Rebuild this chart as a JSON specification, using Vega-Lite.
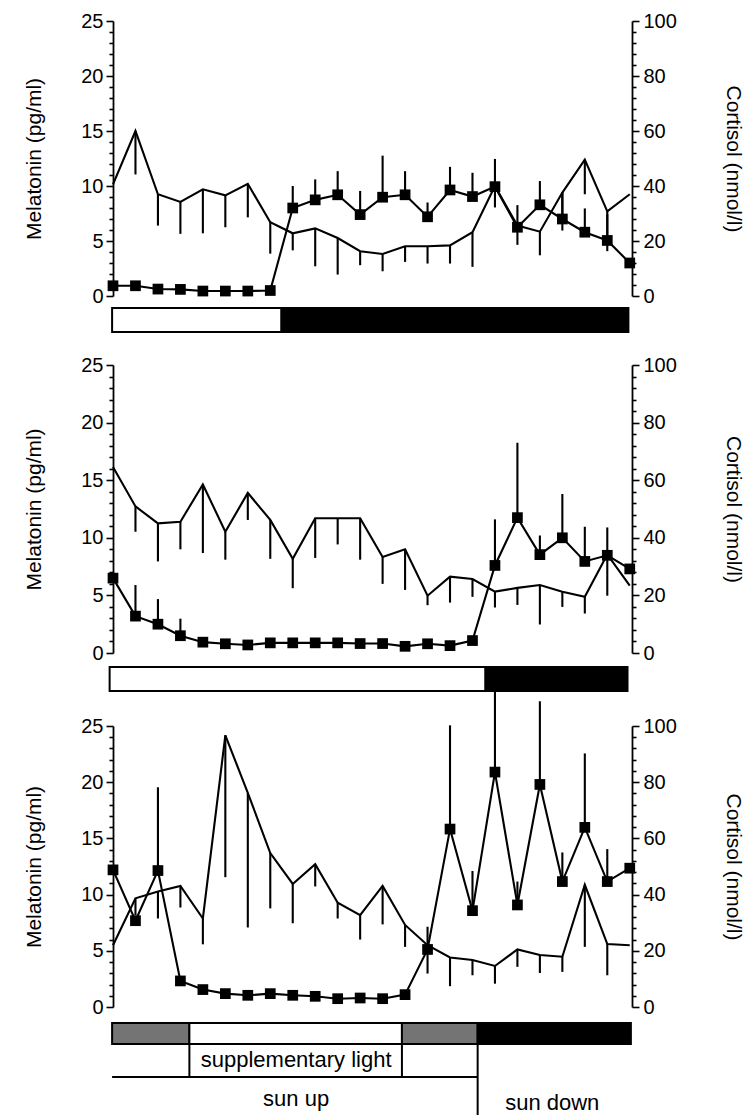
{
  "$schema": "https://vega.github.io/schema/vega-lite/v6.json",
  "padding": {"left": 23, "top": 11, "right": 5, "bottom": 0},
  "background": "white",
  "bounds": "flush",
  "spacing": 12,
  "datasets": {
    "p1": [
      {"t": 1, "mel": 0.93, "melHi": null, "cort": 40.6, "cortLo": null},
      {"t": 2, "mel": 0.93, "melHi": null, "cort": 60, "cortLo": 44.2},
      {"t": 3, "mel": 0.63, "melHi": null, "cort": 37, "cortLo": 25.6},
      {"t": 4, "mel": 0.6, "melHi": null, "cort": 34.2, "cortLo": 22.6},
      {"t": 5, "mel": 0.45, "melHi": null, "cort": 38.8, "cortLo": 22.8},
      {"t": 6, "mel": 0.45, "melHi": null, "cort": 36.6, "cortLo": 25},
      {"t": 7, "mel": 0.45, "melHi": null, "cort": 40.8, "cortLo": 28.6},
      {"t": 8, "mel": 0.5, "melHi": null, "cort": 26.8, "cortLo": 15.4},
      {"t": 9, "mel": 8.0, "melHi": 10.0, "cort": 22.8, "cortLo": 16.6},
      {"t": 10, "mel": 8.74, "melHi": 10.6, "cort": 24.6, "cortLo": 10.8},
      {"t": 11, "mel": 9.2, "melHi": 11.35, "cort": 21.1, "cortLo": 7.8},
      {"t": 12, "mel": 7.4, "melHi": 9.55, "cort": 16.3, "cortLo": 11.2},
      {"t": 13, "mel": 8.98, "melHi": 12.76, "cort": 15.3, "cortLo": 9},
      {"t": 14, "mel": 9.2, "melHi": 11.35, "cort": 18.1, "cortLo": 12.4},
      {"t": 15, "mel": 7.2, "melHi": 8.5, "cort": 18.1, "cortLo": 11.8},
      {"t": 16, "mel": 9.64, "melHi": 11.74, "cort": 18.4, "cortLo": 11.8},
      {"t": 17, "mel": 9.04, "melHi": 11.2, "cort": 23.2, "cortLo": 10.6},
      {"t": 18, "mel": 9.94, "melHi": 12.46, "cort": 40, "cortLo": 32.2},
      {"t": 19, "mel": 6.25, "melHi": 8.26, "cort": 25.6, "cortLo": 18.6},
      {"t": 20, "mel": 8.29, "melHi": 10.45, "cort": 23.4, "cortLo": 14.8},
      {"t": 21, "mel": 7.0, "melHi": 9.46, "cort": 37.6, "cortLo": 23.8},
      {"t": 22, "mel": 5.8, "melHi": 7.96, "cort": 49.6, "cortLo": 37},
      {"t": 23, "mel": 5.05, "melHi": 7.45, "cort": 30.8, "cortLo": 16.3},
      {"t": 24, "mel": 3.0, "melHi": null, "cort": 37, "cortLo": null}
    ],
    "p2": [
      {"t": 1, "mel": 6.5, "melHi": null, "cort": 64.6, "cortLo": null},
      {"t": 2, "mel": 3.2, "melHi": 5.9, "cort": 50.9, "cortLo": 42.1},
      {"t": 3, "mel": 2.5, "melHi": 4.68, "cort": 45, "cortLo": 31.8},
      {"t": 4, "mel": 1.5, "melHi": 2.98, "cort": 45.6, "cortLo": 36},
      {"t": 5, "mel": 0.94, "melHi": null, "cort": 58.5, "cortLo": 34.7},
      {"t": 6, "mel": 0.8, "melHi": null, "cort": 42.1, "cortLo": 32.4},
      {"t": 7, "mel": 0.7, "melHi": null, "cort": 55.6, "cortLo": 46.2},
      {"t": 8, "mel": 0.88, "melHi": null, "cort": 46.2, "cortLo": 32.7},
      {"t": 9, "mel": 0.88, "melHi": null, "cort": 32.7, "cortLo": 22.5},
      {"t": 10, "mel": 0.88, "melHi": null, "cort": 46.8, "cortLo": 33},
      {"t": 11, "mel": 0.88, "melHi": null, "cort": 46.8, "cortLo": 37.7},
      {"t": 12, "mel": 0.82, "melHi": null, "cort": 46.8, "cortLo": 32.4},
      {"t": 13, "mel": 0.82, "melHi": null, "cort": 33.3, "cortLo": 24},
      {"t": 14, "mel": 0.58, "melHi": null, "cort": 36, "cortLo": 21.9},
      {"t": 15, "mel": 0.8, "melHi": null, "cort": 19.9, "cortLo": 16.6},
      {"t": 16, "mel": 0.64, "melHi": null, "cort": 26.5, "cortLo": 17.5},
      {"t": 17, "mel": 1.08, "melHi": null, "cort": 25.7, "cortLo": 19.5},
      {"t": 18, "mel": 7.6, "melHi": 11.6, "cort": 21.3, "cortLo": 15.8},
      {"t": 19, "mel": 11.75, "melHi": 18.25, "cort": 22.6, "cortLo": 16.7},
      {"t": 20, "mel": 8.54, "melHi": 10.2, "cort": 23.6, "cortLo": 9.9},
      {"t": 21, "mel": 10.0, "melHi": 13.8, "cort": 21.3, "cortLo": 16},
      {"t": 22, "mel": 7.95, "melHi": 10.96, "cort": 19.5, "cortLo": 13.7},
      {"t": 23, "mel": 8.48, "melHi": 10.9, "cort": 34.2, "cortLo": 19.9},
      {"t": 24, "mel": 7.3, "melHi": null, "cort": 23.4, "cortLo": null}
    ],
    "p3": [
      {"t": 1, "mel": 12.2, "melHi": null, "cort": 22, "cortLo": null},
      {"t": 2, "mel": 7.68, "melHi": null, "cort": 38.7, "cortLo": 32.7},
      {"t": 3, "mel": 12.14, "melHi": 19.55, "cort": 41.1, "cortLo": 31.5},
      {"t": 4, "mel": 2.32, "melHi": null, "cort": 43.1, "cortLo": 35.4},
      {"t": 5, "mel": 1.55, "melHi": null, "cort": 31.5, "cortLo": 22.3},
      {"t": 6, "mel": 1.19, "melHi": null, "cort": 96.7, "cortLo": 46.2},
      {"t": 7, "mel": 1.04, "melHi": null, "cort": 76.2, "cortLo": 28.3},
      {"t": 8, "mel": 1.19, "melHi": null, "cort": 54.8, "cortLo": 35.1},
      {"t": 9, "mel": 1.04, "melHi": null, "cort": 43.8, "cortLo": 29.8},
      {"t": 10, "mel": 0.95, "melHi": null, "cort": 50.8, "cortLo": 42.9},
      {"t": 11, "mel": 0.74, "melHi": null, "cort": 37.1, "cortLo": 31.5},
      {"t": 12, "mel": 0.8, "melHi": null, "cort": 32.7, "cortLo": 24},
      {"t": 13, "mel": 0.74, "melHi": null, "cort": 43.1, "cortLo": 29.4},
      {"t": 14, "mel": 1.1, "melHi": null, "cort": 29.2, "cortLo": 21.4},
      {"t": 15, "mel": 5.12, "melHi": 7.14, "cort": 22, "cortLo": 11.9},
      {"t": 16, "mel": 15.83, "melHi": 25.06, "cort": 17.6, "cortLo": 7.4},
      {"t": 17, "mel": 8.57, "melHi": 12.1, "cort": 16.7, "cortLo": 11.3},
      {"t": 18, "mel": 20.9, "melHi": 28.2, "cort": 14.6, "cortLo": 8.3},
      {"t": 19, "mel": 9.08, "melHi": 11.16, "cort": 20.5, "cortLo": 14.3},
      {"t": 20, "mel": 19.8, "melHi": 27.2, "cort": 18.5, "cortLo": 12.1},
      {"t": 21, "mel": 11.16, "melHi": 13.75, "cort": 17.9, "cortLo": 12.5},
      {"t": 22, "mel": 15.98, "melHi": 22.56, "cort": 43.5, "cortLo": 21.4},
      {"t": 23, "mel": 11.16, "melHi": 14.05, "cort": 22.4, "cortLo": 11.3},
      {"t": 24, "mel": 12.35, "melHi": null, "cort": 22, "cortLo": null}
    ]
  },
  "vconcat": [
    {
      "width": 519, "height": 275,
      "data": {"name": "p1"},
      "layer": [
        {
          "encoding": {
            "x": {"field": "t", "type": "quantitative", "scale": {"domain": [1, 24.1], "nice": false, "zero": false}, "axis": null},
            "y": {"field": "cort", "type": "quantitative", "scale": {"domain": [0, 100], "nice": false, "zero": true},
              "axis": {"orient": "right", "title": "Cortisol (nmol/l)", "titlePadding": 46, "values": [0,4,8,12,16,20,24,28,32,36,40,44,48,52,56,60,64,68,72,76,80,84,88,92,96,100], "labelExpr": "datum.value % 20 === 0 ? datum.label : ''", "tickSize": {"condition": {"test": "datum.value % 20 === 0", "value": 7}, "value": 4}, "labelPadding": 4, "labelFlush": false, "labelOverlap": false, "labelBound": false}}
          },
          "layer": [
            {"transform": [{"filter": "datum.cortLo != null"}], "mark": {"type": "rule", "color": "black", "strokeWidth": 2.1, "clip": false}, "encoding": {"y2": {"field": "cortLo"}}},
            {"mark": {"type": "line", "color": "black", "strokeWidth": 2.1, "clip": false}}
          ]
        },
        {
          "encoding": {
            "x": {"field": "t", "type": "quantitative", "scale": {"domain": [1, 24.1], "nice": false, "zero": false}, "axis": null},
            "y": {"field": "mel", "type": "quantitative", "scale": {"domain": [0, 25], "nice": false, "zero": true},
              "axis": {"orient": "left", "title": "Melatonin (pg/ml)", "titlePadding": 36, "values": [0,1,2,3,4,5,6,7,8,9,10,11,12,13,14,15,16,17,18,19,20,21,22,23,24,25], "labelExpr": "datum.value % 5 === 0 ? datum.label : ''", "tickSize": {"condition": {"test": "datum.value % 5 === 0", "value": 7}, "value": 4}, "labelPadding": 3, "labelFlush": false, "labelOverlap": false, "labelBound": false}}
          },
          "layer": [
            {"transform": [{"filter": "datum.melHi != null"}], "mark": {"type": "rule", "color": "black", "strokeWidth": 2.1, "clip": false}, "encoding": {"y2": {"field": "melHi"}}},
            {"mark": {"type": "line", "color": "black", "strokeWidth": 2.1, "clip": false}},
            {"mark": {"type": "square", "size": 115, "filled": true, "color": "black", "opacity": 1, "clip": false}},
            {"data": {"values": [{"label": "Artificial short-day"}]}, "mark": {"type": "text", "fontSize": 22, "font": "Liberation Sans", "color": "black", "baseline": "middle", "align": "center"}, "encoding": {"x": {"datum": 12.05}, "y": {"datum": 24.6}, "text": {"field": "label"}}}
          ]
        }
      ],
      "resolve": {"scale": {"y": "independent"}}
    },
    {
      "width": 519, "height": 45,
      "data": {"values": [{"start": 0.96, "end": 8.5, "phase": "light"}, {"start": 8.5, "end": 23.94, "phase": "dark"}]},
      "mark": {"type": "rect", "stroke": "black", "strokeWidth": 2, "clip": false},
      "encoding": {
        "x": {"field": "start", "type": "quantitative", "scale": {"domain": [1, 24.1], "nice": false, "zero": false}, "axis": null},
        "x2": {"field": "end"},
        "y": {"datum": 0, "type": "quantitative", "scale": {"domain": [0, 45], "nice": false, "zero": false, "reverse": true}, "axis": null},
        "y2": {"datum": 24},
        "fill": {"field": "phase", "type": "nominal", "scale": {"domain": ["light", "dark", "twilight"], "range": ["white", "black", "#747474"]}, "legend": null}
      }
    },
    {
      "width": 519, "height": 288,
      "data": {"name": "p2"},
      "layer": [
        {
          "encoding": {
            "x": {"field": "t", "type": "quantitative", "scale": {"domain": [1, 24.1], "nice": false, "zero": false}, "axis": null},
            "y": {"field": "cort", "type": "quantitative", "scale": {"domain": [0, 100], "nice": false, "zero": true},
              "axis": {"orient": "right", "title": "Cortisol (nmol/l)", "titlePadding": 46, "values": [0,4,8,12,16,20,24,28,32,36,40,44,48,52,56,60,64,68,72,76,80,84,88,92,96,100], "labelExpr": "datum.value % 20 === 0 ? datum.label : ''", "tickSize": {"condition": {"test": "datum.value % 20 === 0", "value": 7}, "value": 4}, "labelPadding": 4, "labelFlush": false, "labelOverlap": false, "labelBound": false}}
          },
          "layer": [
            {"transform": [{"filter": "datum.cortLo != null"}], "mark": {"type": "rule", "color": "black", "strokeWidth": 2.1, "clip": false}, "encoding": {"y2": {"field": "cortLo"}}},
            {"mark": {"type": "line", "color": "black", "strokeWidth": 2.1, "clip": false}}
          ]
        },
        {
          "encoding": {
            "x": {"field": "t", "type": "quantitative", "scale": {"domain": [1, 24.1], "nice": false, "zero": false}, "axis": null},
            "y": {"field": "mel", "type": "quantitative", "scale": {"domain": [0, 25], "nice": false, "zero": true},
              "axis": {"orient": "left", "title": "Melatonin (pg/ml)", "titlePadding": 36, "values": [0,1,2,3,4,5,6,7,8,9,10,11,12,13,14,15,16,17,18,19,20,21,22,23,24,25], "labelExpr": "datum.value % 5 === 0 ? datum.label : ''", "tickSize": {"condition": {"test": "datum.value % 5 === 0", "value": 7}, "value": 4}, "labelPadding": 3, "labelFlush": false, "labelOverlap": false, "labelBound": false}}
          },
          "layer": [
            {"transform": [{"filter": "datum.melHi != null"}], "mark": {"type": "rule", "color": "black", "strokeWidth": 2.1, "clip": false}, "encoding": {"y2": {"field": "melHi"}}},
            {"mark": {"type": "line", "color": "black", "strokeWidth": 2.1, "clip": false}},
            {"mark": {"type": "square", "size": 115, "filled": true, "color": "black", "opacity": 1, "clip": false}},
            {"data": {"values": [{"label": "Artificial long-day"}]}, "mark": {"type": "text", "fontSize": 22, "font": "Liberation Sans", "color": "black", "baseline": "middle", "align": "center"}, "encoding": {"x": {"datum": 11.83}, "y": {"datum": 24.55}, "text": {"field": "label"}}}
          ]
        }
      ],
      "resolve": {"scale": {"y": "independent"}}
    },
    {
      "width": 519, "height": 49,
      "data": {"values": [{"start": 0.85, "end": 17.58, "phase": "light"}, {"start": 17.58, "end": 23.9, "phase": "dark"}]},
      "mark": {"type": "rect", "stroke": "black", "strokeWidth": 2, "clip": false},
      "encoding": {
        "x": {"field": "start", "type": "quantitative", "scale": {"domain": [1, 24.1], "nice": false, "zero": false}, "axis": null},
        "x2": {"field": "end"},
        "y": {"datum": 2, "type": "quantitative", "scale": {"domain": [0, 49], "nice": false, "zero": false, "reverse": true}, "axis": null},
        "y2": {"datum": 26},
        "fill": {"field": "phase", "type": "nominal", "scale": {"domain": ["light", "dark", "twilight"], "range": ["white", "black", "#747474"]}, "legend": null}
      }
    },
    {
      "width": 519, "height": 281,
      "data": {"name": "p3"},
      "layer": [
        {
          "encoding": {
            "x": {"field": "t", "type": "quantitative", "scale": {"domain": [1, 24.1], "nice": false, "zero": false}, "axis": null},
            "y": {"field": "cort", "type": "quantitative", "scale": {"domain": [0, 100], "nice": false, "zero": true},
              "axis": {"orient": "right", "title": "Cortisol (nmol/l)", "titlePadding": 46, "values": [0,4,8,12,16,20,24,28,32,36,40,44,48,52,56,60,64,68,72,76,80,84,88,92,96,100], "labelExpr": "datum.value % 20 === 0 ? datum.label : ''", "tickSize": {"condition": {"test": "datum.value % 20 === 0", "value": 7}, "value": 4}, "labelPadding": 4, "labelFlush": false, "labelOverlap": false, "labelBound": false}}
          },
          "layer": [
            {"transform": [{"filter": "datum.cortLo != null"}], "mark": {"type": "rule", "color": "black", "strokeWidth": 2.1, "clip": false}, "encoding": {"y2": {"field": "cortLo"}}},
            {"mark": {"type": "line", "color": "black", "strokeWidth": 2.1, "clip": false}}
          ]
        },
        {
          "encoding": {
            "x": {"field": "t", "type": "quantitative", "scale": {"domain": [1, 24.1], "nice": false, "zero": false}, "axis": null},
            "y": {"field": "mel", "type": "quantitative", "scale": {"domain": [0, 25], "nice": false, "zero": true},
              "axis": {"orient": "left", "title": "Melatonin (pg/ml)", "titlePadding": 36, "values": [0,1,2,3,4,5,6,7,8,9,10,11,12,13,14,15,16,17,18,19,20,21,22,23,24,25], "labelExpr": "datum.value % 5 === 0 ? datum.label : ''", "tickSize": {"condition": {"test": "datum.value % 5 === 0", "value": 7}, "value": 4}, "labelPadding": 3, "labelFlush": false, "labelOverlap": false, "labelBound": false}}
          },
          "layer": [
            {"transform": [{"filter": "datum.melHi != null"}], "mark": {"type": "rule", "color": "black", "strokeWidth": 2.1, "clip": false}, "encoding": {"y2": {"field": "melHi"}}},
            {"mark": {"type": "line", "color": "black", "strokeWidth": 2.1, "clip": false}},
            {"mark": {"type": "square", "size": 115, "filled": true, "color": "black", "opacity": 1, "clip": false}},
            {"data": {"values": [{"label": "Natural long-day"}]}, "mark": {"type": "text", "fontSize": 22, "font": "Liberation Sans", "color": "black", "baseline": "middle", "align": "center"}, "encoding": {"x": {"datum": 11.57}, "y": {"datum": 24.4}, "text": {"field": "label"}}}
          ]
        }
      ],
      "resolve": {"scale": {"y": "independent"}}
    },
    {
      "width": 519, "height": 96,
      "layer": [
        {
          "data": {"values": [
            {"start": 0.96, "end": 4.4, "phase": "twilight"},
            {"start": 4.4, "end": 13.86, "phase": "light"},
            {"start": 13.86, "end": 17.23, "phase": "twilight"},
            {"start": 17.23, "end": 24.05, "phase": "dark"}
          ]},
          "mark": {"type": "rect", "stroke": "black", "strokeWidth": 2, "clip": false},
          "encoding": {
            "x": {"field": "start", "type": "quantitative", "scale": {"domain": [1, 24.1], "nice": false, "zero": false}, "axis": null},
            "x2": {"field": "end"},
            "y": {"datum": 4, "type": "quantitative", "scale": {"domain": [0, 96], "nice": false, "zero": false, "reverse": true}, "axis": null},
            "y2": {"datum": 25},
            "fill": {"field": "phase", "type": "nominal", "scale": {"domain": ["light", "dark", "twilight"], "range": ["white", "black", "#747474"]}, "legend": null}
          }
        },
        {
          "data": {"values": [{"label": "supplementary light"}]},
          "mark": {"type": "rect", "stroke": "black", "strokeWidth": 2, "fill": "white", "clip": false},
          "encoding": {
            "x": {"datum": 4.4, "type": "quantitative"},
            "x2": {"datum": 13.86},
            "y": {"datum": 25, "type": "quantitative"},
            "y2": {"datum": 58}
          }
        },
        {
          "data": {"values": [{"label": "sun up"}]},
          "mark": {"type": "rule", "color": "black", "strokeWidth": 2, "clip": false},
          "encoding": {
            "x": {"datum": 0.96, "type": "quantitative"},
            "x2": {"datum": 17.23},
            "y": {"datum": 58, "type": "quantitative"}
          }
        },
        {
          "data": {"values": [{"label": "sun down"}]},
          "mark": {"type": "rule", "color": "black", "strokeWidth": 2, "clip": false},
          "encoding": {
            "x": {"datum": 17.23, "type": "quantitative"},
            "y": {"datum": 25, "type": "quantitative"},
            "y2": {"datum": 96}
          }
        },
        {
          "data": {"values": [{"label": "supplementary light"}]},
          "mark": {"type": "text", "fontSize": 22, "font": "Liberation Sans", "color": "black", "baseline": "middle", "align": "center"},
          "encoding": {"x": {"datum": 9.15, "type": "quantitative"}, "y": {"datum": 41, "type": "quantitative"}, "text": {"field": "label"}}
        },
        {
          "data": {"values": [{"label": "sun up"}]},
          "mark": {"type": "text", "fontSize": 22, "font": "Liberation Sans", "color": "black", "baseline": "middle", "align": "center"},
          "encoding": {"x": {"datum": 9.15, "type": "quantitative"}, "y": {"datum": 80, "type": "quantitative"}, "text": {"field": "label"}}
        },
        {
          "data": {"values": [{"label": "sun down"}]},
          "mark": {"type": "text", "fontSize": 22, "font": "Liberation Sans", "color": "black", "baseline": "middle", "align": "center"},
          "encoding": {"x": {"datum": 20.55, "type": "quantitative"}, "y": {"datum": 84, "type": "quantitative"}, "text": {"field": "label"}}
        }
      ]
    }
  ],
  "config": {
    "view": {"stroke": null},
    "font": "Liberation Sans",
    "axis": {"grid": false, "domainColor": "black", "domainWidth": 1.8, "tickColor": "black", "tickWidth": 1.6, "labelColor": "black", "labelFont": "Liberation Sans", "labelFontSize": 20, "titleFont": "Liberation Sans", "titleFontSize": 21, "titleFontWeight": "normal", "titleColor": "black"}
  }
}
